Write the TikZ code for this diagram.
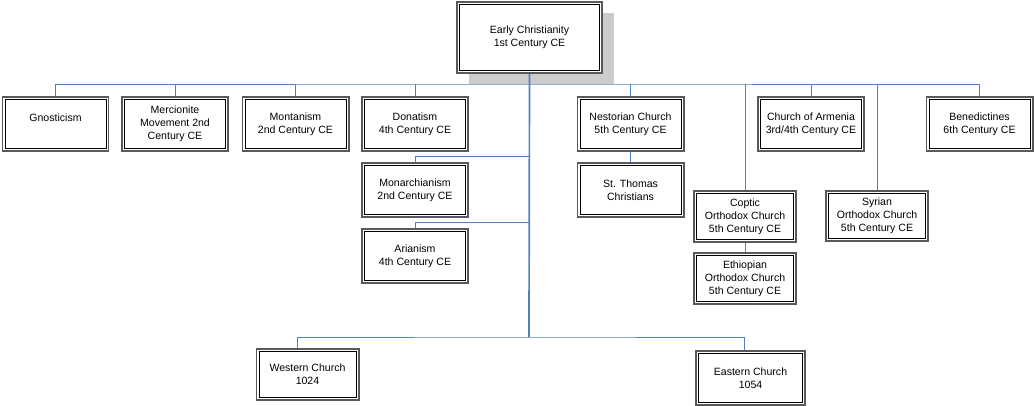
\documentclass[tikz,border=0pt]{standalone}
\usepackage{fontspec}
\setmainfont{Liberation Sans}
\usetikzlibrary{shadows}
\definecolor{linkblue}{RGB}{79,129,189}
\begin{document}
\begin{tikzpicture}[x=0.025cm, y=-0.025cm,
  box/.style={draw=black!65, line width=1.4pt, fill=white, align=center, inner sep=2pt,
    font=\fontsize{7.5}{9.2}\selectfont, minimum width=2.65cm, minimum height=1.35cm,
    path picture={\draw[black, line width=0.6pt]
      ([shift={(1.8pt,1.8pt)}]path picture bounding box.south west) rectangle
      ([shift={(-1.8pt,-1.8pt)}]path picture bounding box.north east);}},
  small/.style={box, minimum width=2.55cm, minimum height=1.27cm},
  link/.style={draw=linkblue, line width=0.7pt},
  trunk/.style={draw=linkblue, line width=1.2pt}]
\useasboundingbox (0,0) rectangle (1034,406);
\node[box, minimum width=3.625cm, minimum height=1.775cm,
  drop shadow={shadow xshift=0.3cm, shadow yshift=-0.28cm, opacity=1, fill=black!20}]
  (root) at (529.5,37.5) {Early Christianity\\1st Century CE};
\node[box] (gno) at (55.5,124) {Gnosticism\\\mbox{}};
\node[box] (mer) at (175,124) {Mercionite\\Movement 2nd\\Century CE};
\node[box] (mon) at (295.5,124) {Montanism\\2nd Century CE};
\node[box] (don) at (415,124) {Donatism\\4th Century CE};
\node[box] (nes) at (630.5,124) {Nestorian Church\\5th Century CE};
\node[box] (arm) at (811,124) {Church of Armenia\\3rd/4th Century CE};
\node[box] (ben) at (979.5,124) {Benedictines\\6th Century CE};
\node[box] (mnr) at (415,190) {Monarchianism\\2nd Century CE};
\node[box] (ari) at (415,256) {Arianism\\4th Century CE};
\node[box] (tho) at (630.5,190) {St. Thomas\\Christians};
\node[small] (cop) at (745,216.5) {Coptic\\Orthodox Church\\5th Century CE};
\node[small] (eth) at (745,278.5) {Ethiopian\\Orthodox Church\\5th Century CE};
\node[small] (syr) at (877,216) {Syrian\\Orthodox Church\\5th Century CE};
\node[small] (wes) at (307.5,374.5) {Western Church\\1024};
\node[box, minimum width=2.725cm] (eas) at (750.5,378) {Eastern Church\\1054};
\coordinate (bus) at (529,84);
\coordinate (low) at (529,337);
% top row and its branches
\draw[link] (gno.north) |- (bus) -| (ben.north);
\foreach \n in {mer,mon,don,nes,arm,cop,syr}
  \draw[link] (\n.north) -- (\n.north |- bus);
\draw[link] (nes) -- (tho);
\draw[link] (cop) -- (eth);
\draw[link] (mnr.north) -- ++(0,-6) -- ++(114,0);
\draw[link] (ari.north) -- ++(0,-6) -- ++(114,0);
% split at the bottom
\draw[link] ([xshift=-0.26cm]wes.north) |- (low) -| ([xshift=-0.14cm]eas.north);
\draw[trunk] (root.south) -- (low);
\end{tikzpicture}
\end{document}
